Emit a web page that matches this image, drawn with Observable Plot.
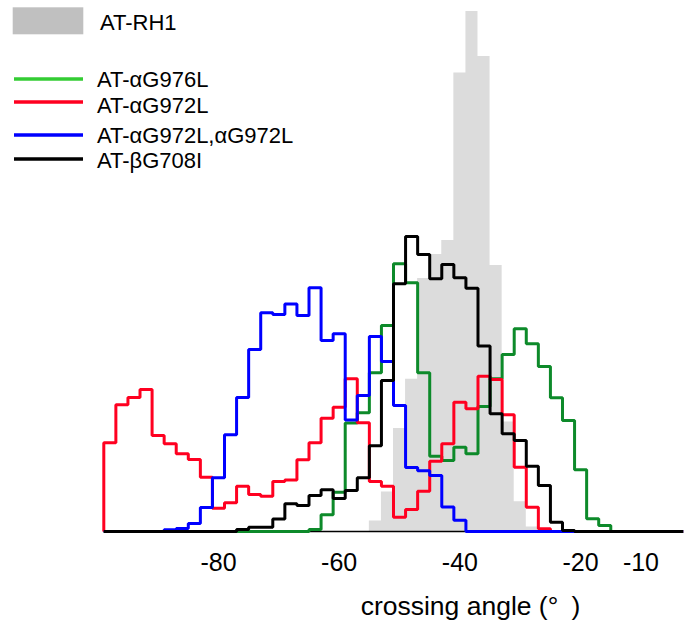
<!DOCTYPE html>
<html>
<head>
<meta charset="utf-8">
<script src="https://cdn.jsdelivr.net/npm/d3@7"></script>
<script src="https://cdn.jsdelivr.net/npm/@observablehq/plot@0.6"></script>
<style>
  html, body { margin: 0; padding: 0; background: #fff; }
  #wrap { position: relative; width: 690px; height: 621px; }
  #legend { position: absolute; left: 0; top: 0; pointer-events: none; }
</style>
</head>
<body>
<div id="wrap"></div>
<script>
// Bin left edges (degrees), bin width 2°
const binLeft = [-99,-97,-95,-93,-91,-89,-87,-85,-83,-81,-79,-77,-75,-73,-71,-69,
                 -67,-65,-63,-61,-59,-57,-55,-53,-51,-49,-47,-45,-43,-41,-39,-37,
                 -35,-33,-31,-29,-27,-25,-23,-21,-19,-17,-15,-13,-11,-9,-7,-5];
const binRightEnd = -3;

// Relative frequencies (one value per bin)
const rh1 = [0,0,0,0,0,0,0,0,0,0,0,0,0,0,0,0,0,0,0,0,0,0,
             1.05,3.95,10.30,15.23,25.30,27.70,29.10,45.85,52.00,47.50,26.60,10.94,2.97,0.45,
             0,0,0,0,0,0,0,0,0,0,0,0];
const g976 = [0,0,0,0,0,0,0,0,0,0,0,0,0,0,0,0,0,
              0.20,1.67,3.93,10.85,11.87,15.87,20.60,26.77,24.87,15.87,7.53,7.10,8.43,7.77,
              12.50,15.27,17.70,20.27,18.77,16.50,13.37,11.10,6.17,1.27,0.60,
              0,0,0,0,0,0];
const g972 = [8.87,12.67,13.40,14.20,9.60,8.77,7.77,7.20,5.43,2.33,2.87,4.53,3.70,3.53,5.00,5.15,
              7.17,8.87,11.33,12.43,15.27,10.87,5.00,4.53,1.43,2.20,4.03,7.03,8.77,12.93,12.27,
              15.53,15.20,11.67,6.43,2.43,0.27,
              0,0,0,0,0,0,0,0,0,0,0];
const g972x2 = [0,0,0,0,0,
                0.17,0.30,0.80,2.40,5.37,9.68,13.40,18.20,21.87,21.70,22.75,21.60,24.37,19.10,19.77,
                11.15,13.60,19.50,17.00,12.60,6.40,6.08,5.60,2.44,1.12,
                0,0,0,0,0,0,0,0,0,0,0,0,0,0,0,0,0,0];
const bG708 = [0,0,0,0,0,0,0,0,0,0,0,
               0.20,0.43,0.43,1.25,2.77,2.60,3.60,4.18,3.30,4.10,5.37,8.57,15.10,24.77,29.50,27.70,
               25.27,26.70,25.37,24.33,18.55,11.77,9.77,9.10,6.53,4.60,0.93,0.10,
               0,0,0,0,0,0,0,0,0];

const seriesNames = ["AT-RH1", "AT-αG976L", "AT-αG972L", "AT-αG972L,αG972L", "AT-βG708I"];
const lineColors = ["#0d8a2a", "#ff0020", "#0000ff", "#000000"];
const legendLineColors = ["#33cc33", "#ff0020", "#0000ff", "#000000"];

const tickValues = [-80, -60, -40, -20, -10];
const tickLabels = ["-80", "-60", "-40", "-20", "-10"];
const xLabel = "crossing angle (°\u2002)";

// Build step-line point lists from bins
function stepPoints(values) {
  const pts = [{x: binLeft[0], y: 0}];
  values.forEach((v, i) => pts.push({x: binLeft[i], y: v}));
  pts.push({x: binRightEnd, y: values[values.length - 1]});
  pts.push({x: binRightEnd, y: 0});
  return pts;
}
function areaPoints(values) {
  const pts = values.map((v, i) => ({x: binLeft[i], y: v}));
  pts.push({x: binRightEnd, y: values[values.length - 1]});
  return pts;
}

const lineSeries = [g976, g972, g972x2, bG708];
const tickText = new Map(tickValues.map((v, i) => [v, tickLabels[i]]));

const chart = Plot.plot({
  width: 690,
  height: 621,
  marginLeft: 103.3,
  marginRight: 7.3,
  marginTop: 11,
  marginBottom: 90,
  style: {fontFamily: "'Liberation Sans', Arial, sans-serif", background: "white", color: "black"},
  x: {domain: [binLeft[0], binRightEnd], axis: null},
  y: {domain: [0, 52], axis: null},
  marks: [
    Plot.areaY(areaPoints(rh1), {x: "x", y: "y", curve: "step-after", fill: "#dcdcdc"}),
    Plot.ruleY([0], {stroke: "black", strokeWidth: 1.5}),
    ...lineSeries.map((s, i) => Plot.line(stepPoints(s), {
      x: "x", y: "y", curve: "step-after", stroke: lineColors[i], strokeWidth: 3,
      strokeLinejoin: "miter", strokeLinecap: "butt"
    })),
    Plot.axisX(tickValues, {
      tickSize: 0, tickPadding: 22, fontSize: 25, label: null,
      tickFormat: d => tickText.get(d)
    }),
    Plot.text([xLabel], {frameAnchor: "bottom", dx: 77, dy: 83.5, lineAnchor: "bottom", fontSize: 26.5})
  ]
});

const wrap = document.getElementById("wrap");
wrap.appendChild(chart);

// Legend overlay (top-left)
const leg = d3.select(wrap).append("svg")
  .attr("id", "legend").attr("width", 690).attr("height", 180)
  .style("font-family", "'Liberation Sans', Arial, sans-serif").style("font-size", "22px");
leg.append("rect").attr("x", 12.7).attr("y", 7.3).attr("width", 70.6).attr("height", 27).attr("fill", "#c0c0c0");
leg.append("text").attr("x", 100).attr("y", 30).text(seriesNames[0]);
const lineYs = [79, 102, 135, 159];
const textYs = [87.3, 113.3, 142.7, 167.5];
seriesNames.slice(1).forEach((name, i) => {
  leg.append("line").attr("x1", 14).attr("x2", 83).attr("y1", lineYs[i]).attr("y2", lineYs[i])
    .attr("stroke", legendLineColors[i]).attr("stroke-width", 3.3);
  leg.append("text").attr("x", 97).attr("y", textYs[i]).text(name);
});
</script>
</body>
</html>
